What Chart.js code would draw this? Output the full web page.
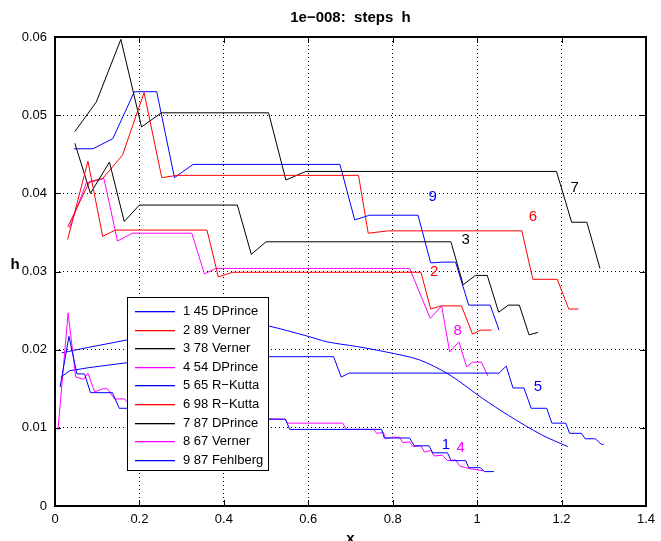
<!DOCTYPE html>
<html>
<head>
<meta charset="utf-8">
<script src="https://cdn.jsdelivr.net/npm/chart.js@4.4.0/dist/chart.umd.min.js"></script>
<style>
  html, body { margin: 0; padding: 0; background: #fff; }
  #wrap { width: 661px; height: 541px; }
</style>
</head>
<body>
<div id="wrap"><canvas id="c" width="661" height="541"></canvas></div>
<script>
// ===== DATA =====
const names = ['1 45 DPrince', '2 89 Verner', '3 78 Verner', '4 54 DPrince', '5 65 R\u2212Kutta',
               '6 98 R\u2212Kutta', '7 87 DPrince', '8 67 Verner', '9 87 Fehlberg'];
const colors = ['#0000ff', '#ff0000', '#000000', '#ff00ff', '#0000ff', '#ff0000', '#000000', '#ff00ff', '#0000ff'];

const x1 = [0.012, 0.033, 0.052, 0.07, 0.084, 0.136, 0.152, 0.2, 0.21, 0.3, 0.31, 0.4, 0.41, 0.546, 0.556, 0.774, 0.78, 0.84, 0.851, 0.886, 0.895, 0.93, 0.938, 0.973, 0.98, 1.008, 1.017, 1.04];
const h1 = [0.0152, 0.0217, 0.0169, 0.0169, 0.0145, 0.0145, 0.0125, 0.0125, 0.012, 0.012, 0.0115, 0.0115, 0.0111, 0.0111, 0.0098, 0.0098, 0.0087, 0.0087, 0.0077, 0.0077, 0.0068, 0.0068, 0.0058, 0.0058, 0.0049, 0.0049, 0.0044, 0.0044];

const x2 = [0.03, 0.078, 0.113, 0.143, 0.36, 0.387, 0.42, 0.867, 0.89, 0.915, 0.963, 0.989, 1.008, 1.034];
const h2 = [0.0341, 0.0441, 0.0345, 0.0353, 0.0353, 0.0293, 0.0299, 0.0299, 0.0252, 0.0256, 0.0256, 0.022, 0.0225, 0.0225];

const x3 = [0.047, 0.084, 0.129, 0.164, 0.2, 0.432, 0.465, 0.5, 0.938, 0.967, 0.996, 1.024, 1.051, 1.074, 1.1, 1.123, 1.144];
const h3 = [0.0464, 0.040, 0.044, 0.0364, 0.0385, 0.0385, 0.0322, 0.0338, 0.0338, 0.0283, 0.0295, 0.0295, 0.0248, 0.0257, 0.0257, 0.0219, 0.0222];

const x4 = [0.007, 0.031, 0.049, 0.068, 0.078, 0.094, 0.113, 0.124, 0.141, 0.165, 0.175, 0.26, 0.27, 0.36, 0.37, 0.544, 0.552, 0.682, 0.69, 0.755, 0.762, 0.778, 0.783, 0.801, 0.816, 0.824, 0.84, 0.848, 0.867, 0.875, 0.89, 0.898, 0.918, 0.93, 0.949, 0.959, 0.973, 0.98, 1.015];
const h4 = [0.0097, 0.0247, 0.0165, 0.0162, 0.017, 0.0146, 0.015, 0.015, 0.0137, 0.0137, 0.013, 0.013, 0.0122, 0.0122, 0.0114, 0.0111, 0.0106, 0.0106, 0.0098, 0.0098, 0.0093, 0.0094, 0.0086, 0.0088, 0.0088, 0.0081, 0.0082, 0.0076, 0.0077, 0.0069, 0.0071, 0.0064, 0.0065, 0.0058, 0.0059, 0.0051, 0.0049, 0.0048, 0.0045];

const x5 = [0.014, 0.035, 0.08, 0.166, 0.3, 0.45, 0.66, 0.678, 0.697, 1.052, 1.069, 1.085, 1.111, 1.128, 1.165, 1.177, 1.21, 1.219, 1.247, 1.256, 1.28, 1.294, 1.3];
const h5 = [0.0165, 0.0173, 0.0177, 0.0183, 0.0188, 0.0191, 0.0191, 0.0165, 0.017, 0.017, 0.0179, 0.0151, 0.0151, 0.0125, 0.0125, 0.0106, 0.0106, 0.0093, 0.0093, 0.0086, 0.0086, 0.0079, 0.0079];

const x6 = [0.03, 0.082, 0.113, 0.16, 0.211, 0.253, 0.289, 0.719, 0.742, 0.79, 1.106, 1.132, 1.19, 1.217, 1.24];
const h6 = [0.0357, 0.0415, 0.0419, 0.0449, 0.0529, 0.042, 0.0423, 0.0423, 0.0349, 0.0352, 0.0352, 0.029, 0.029, 0.0252, 0.0252];

const x7 = [0.047, 0.098, 0.156, 0.205, 0.252, 0.506, 0.547, 0.594, 1.188, 1.224, 1.26, 1.291];
const h7 = [0.0479, 0.0517, 0.0597, 0.0485, 0.0503, 0.0503, 0.0417, 0.0428, 0.0428, 0.0363, 0.0363, 0.0304];

const x8 = [0.034, 0.074, 0.116, 0.148, 0.183, 0.324, 0.354, 0.382, 0.84, 0.889, 0.916, 0.935, 0.957, 0.975, 0.989, 1.01, 1.026];
const h8 = [0.0356, 0.0413, 0.0419, 0.0339, 0.0349, 0.0349, 0.0297, 0.0304, 0.0304, 0.024, 0.0256, 0.0197, 0.021, 0.0178, 0.0184, 0.0184, 0.0166];

const x9 = [0.045, 0.09, 0.137, 0.188, 0.241, 0.283, 0.327, 0.675, 0.71, 0.745, 0.86, 0.89, 0.92, 0.949, 0.98, 1.031, 1.052];
const h9 = [0.0457, 0.0457, 0.047, 0.053, 0.053, 0.042, 0.0437, 0.0437, 0.0366, 0.0372, 0.0372, 0.0311, 0.0312, 0.0312, 0.0257, 0.0257, 0.0225];

// smooth blue curve (no legend entry)
const xc = [0.016, 0.08, 0.166, 0.25, 0.3, 0.38, 0.44, 0.5, 0.6, 0.645, 0.715, 0.785, 0.863, 0.934, 1.012, 1.074, 1.153, 1.215];
const hc = [0.0196, 0.0203, 0.0212, 0.0222, 0.0229, 0.0235, 0.0235, 0.0231, 0.0217, 0.021, 0.0204, 0.0197, 0.0187, 0.0168, 0.0138, 0.0116, 0.0091, 0.0076];

const xTicks = ['0', '0.2', '0.4', '0.6', '0.8', '1', '1.2', '1.4'];
const yTicks = ['0', '0.01', '0.02', '0.03', '0.04', '0.05', '0.06'];

// end-of-curve number tags [text, x, h, colour index]
const tags = [['9', 0.895, 0.0395, 8], ['6', 1.132, 0.037, 5], ['7', 1.231, 0.0407, 6], ['3', 0.973, 0.034, 2],
              ['2', 0.898, 0.0299, 1], ['8', 0.954, 0.0224, 7], ['5', 1.144, 0.0153, 4], ['1', 0.926, 0.0078, 0],
              ['4', 0.961, 0.0074, 3]];

const xs = [x1, x2, x3, x4, x5, x6, x7, x8, x9];
const hs = [h1, h2, h3, h4, h5, h6, h7, h8, h9];

const FONT = '"Liberation Sans", Arial, Helvetica, sans-serif';

const pts = (xa, ha) => xa.map((v, i) => ({ x: v, y: ha[i] }));

const datasets = xs.map((xa, i) => ({
  label: names[i],
  data: pts(xa, hs[i]),
  borderColor: colors[i],
  borderWidth: 1,
  pointRadius: 0,
  tension: 0,
  fill: false
}));
datasets.push({ label: '', data: pts(xc, hc), borderColor: '#0000ff', borderWidth: 1, pointRadius: 0, tension: 0.3, fill: false });

// ===== DECORATION: frame, inner ticks, title, labels, legend =====
const decor = {
  id: 'decor',
  afterDatasetsDraw(chart) {
    const { ctx, chartArea: a, scales } = chart;
    const L = Math.round(a.left), T = Math.round(a.top), R = Math.round(a.right), B = Math.round(a.bottom);
    ctx.save();
    ctx.setLineDash([]);
    ctx.strokeStyle = '#000';

    // inner ticks on all four sides
    ctx.lineWidth = 1;
    ctx.beginPath();
    xTicks.forEach((t, i) => {
      const px = Math.round(scales.x.getPixelForValue(i * 0.2)) + 0.5;
      ctx.moveTo(px, B); ctx.lineTo(px, B - 6);
      ctx.moveTo(px, T); ctx.lineTo(px, T + 6);
    });
    yTicks.forEach((t, i) => {
      const py = Math.round(scales.y.getPixelForValue(i * 0.01)) + 0.5;
      ctx.moveTo(L, py); ctx.lineTo(L + 6, py);
      ctx.moveTo(R, py); ctx.lineTo(R - 6, py);
    });
    ctx.stroke();

    // frame
    ctx.lineWidth = 2;
    ctx.strokeRect(L, T, R - L, B - T);

    // number tags
    ctx.font = '15px ' + FONT;
    ctx.textAlign = 'center';
    ctx.textBaseline = 'middle';
    tags.forEach(([s, tx, ty, ci]) => {
      ctx.fillStyle = colors[ci];
      ctx.fillText(s, scales.x.getPixelForValue(tx), scales.y.getPixelForValue(ty));
    });

    // legend box
    const lx = 127, ly = 297, lw = 141, lh = 173, row = 18.6;
    ctx.fillStyle = '#fff';
    ctx.fillRect(lx, ly, lw, lh);
    ctx.lineWidth = 1;
    ctx.strokeStyle = '#000';
    ctx.strokeRect(lx + 0.5, ly + 0.5, lw, lh);
    ctx.font = '13px ' + FONT;
    ctx.textAlign = 'left';
    names.forEach((n, i) => {
      const yy = Math.round(ly + 14 + i * row);
      ctx.fillStyle = colors[i];
      ctx.fillRect(lx + 8, yy, 40, 1.3);
      ctx.fillStyle = '#000';
      ctx.fillText(n, lx + 56, yy + 0.5);
    });

    // title and axis labels
    ctx.fillStyle = '#000';
    ctx.font = 'bold 15px ' + FONT;
    ctx.textAlign = 'center';
    ctx.fillText('1e\u2212008:  steps  h', (a.left + a.right) / 2, 18);
    ctx.fillText('h', 15, 265);
    ctx.fillText('x', (a.left + a.right) / 2, 539);
    ctx.restore();
  }
};

const ctx = document.getElementById('c').getContext('2d');
new Chart(ctx, {
  type: 'line',
  data: { datasets },
  options: {
    responsive: false,
    animation: false,
    layout: { padding: { top: 37, right: 9, left: 0, bottom: 0 } },
    plugins: { legend: { display: false }, tooltip: { enabled: false }, title: { display: false } },
    scales: {
      x: {
        type: 'linear', min: 0, max: 1.4,
        afterFit: s => { s.height = 35; },
        ticks: { stepSize: 0.2, color: '#000', padding: 6, maxRotation: 0,
                 font: { family: FONT, size: 13 }, callback: (v, i) => xTicks[i] },
        grid: { color: '#000', lineWidth: 1, drawTicks: false },
        border: { display: false, dash: [1, 3] }
      },
      y: {
        min: 0, max: 0.06,
        afterFit: s => { s.width = 55; },
        ticks: { stepSize: 0.01, color: '#000', padding: 8,
                 font: { family: FONT, size: 13 }, callback: (v, i) => yTicks[i] },
        grid: { color: '#000', lineWidth: 1, drawTicks: false },
        border: { display: false, dash: [1, 3] }
      }
    }
  },
  plugins: [decor]
});
</script>
</body>
</html>
